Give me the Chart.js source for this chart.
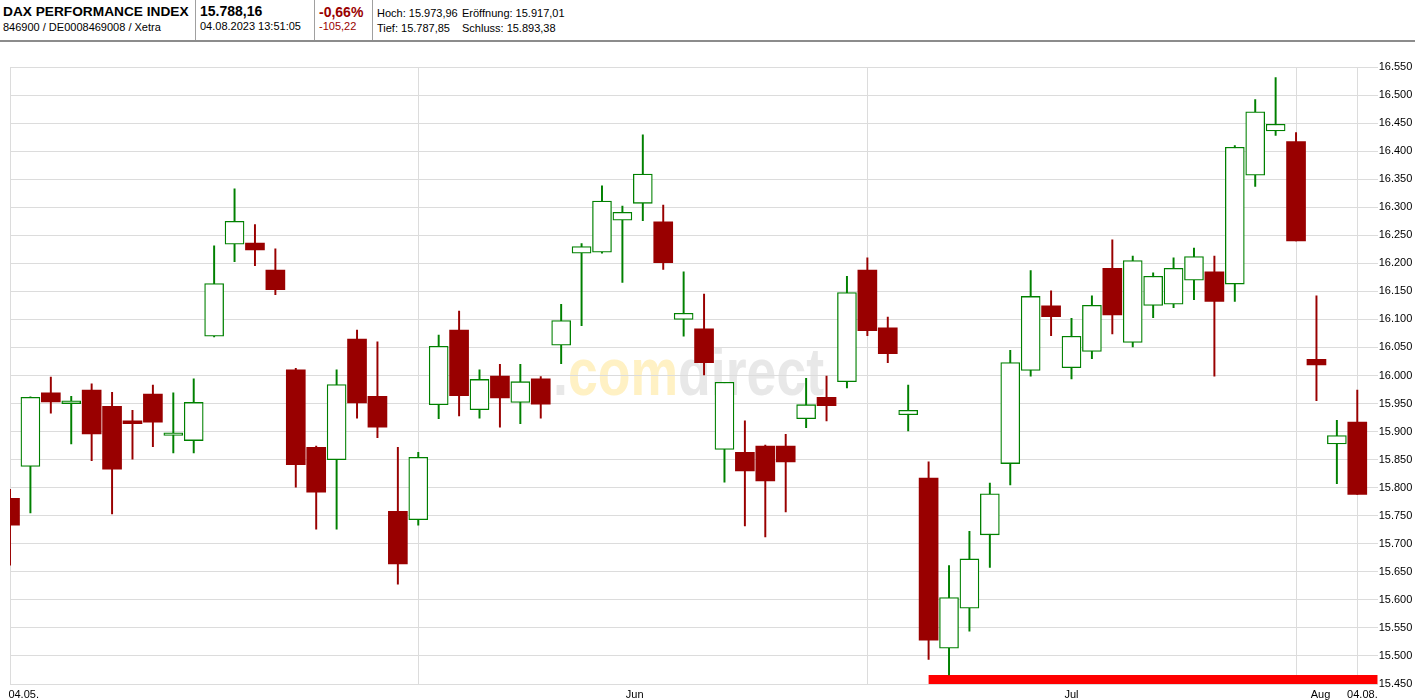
<!DOCTYPE html>
<html>
<head>
<meta charset="utf-8">
<title>DAX Performance Index</title>
<script src="https://cdn.jsdelivr.net/npm/chart.js@4.4.0/dist/chart.umd.min.js"></script>
<style>
  body { margin: 0; width: 1415px; height: 700px; overflow: hidden; position: relative; background: #fff;
         font-family: "Liberation Sans", Arial, sans-serif; color: #000; }
  #head { position: absolute; left: 0; top: 0; width: 1415px; height: 40px; border-bottom: 2px solid #8c8c8c; }
  .sep { position: absolute; top: 0; width: 1px; height: 40px; background: #a0a0a0; }
  .t { position: absolute; white-space: nowrap; line-height: 1; }
  .big { font-size: 14px; font-weight: bold; }
  .small { font-size: 11px; }
  .neg { color: #990000; }
  #wm { position: absolute; left: 553px; top: 338px; font-size: 67px; font-weight: bold; line-height: 1;
        transform: scaleX(0.8); transform-origin: left top; white-space: nowrap; z-index: 0; }
  #wm .g { color: #e8e8e8; }
  #wm .y { color: #fff1c4; }
  #wrap { position: absolute; left: 0; top: 42px; width: 1415px; height: 658px; z-index: 1; }
</style>
</head>
<body>
<div id="head">
  <div class="t big" style="left:3px;top:5px;font-size:13.7px">DAX PERFORMANCE INDEX</div>
  <div class="t small" style="left:3px;top:22px">846900 / DE0008469008 / Xetra</div>
  <div class="sep" style="left:195px"></div>
  <div class="t big" style="left:200px;top:4px">15.788,16</div>
  <div class="t small" style="left:200px;top:21px">04.08.2023 13:51:05</div>
  <div class="sep" style="left:314px"></div>
  <div class="t big neg" style="left:319px;top:5px">-0,66%</div>
  <div class="t small neg" style="left:319px;top:21px">-105,22</div>
  <div class="sep" style="left:372px"></div>
  <div class="t small" style="left:377px;top:8px">Hoch: 15.973,96</div>
  <div class="t small" style="left:462px;top:8px">Eröffnung: 15.917,01</div>
  <div class="t small" style="left:377px;top:23px">Tief: 15.787,85</div>
  <div class="t small" style="left:462px;top:23px">Schluss: 15.893,38</div>
</div>
<div id="wm"><span class="g">.</span><span class="y">com</span><span class="g">direct</span></div>
<div id="wrap"><canvas id="chart" width="1415" height="658"></canvas></div>
<script>
// Handelstage 04.05.2023 - 04.08.2023
const dates = [
  '04.05.', '05.05.', '08.05.', '09.05.', '10.05.', '11.05.', '12.05.', '15.05.', '16.05.', '17.05.',
  '18.05.', '19.05.', '22.05.', '23.05.', '24.05.', '25.05.', '26.05.', '29.05.', '30.05.', '31.05.',
  '01.06.', '02.06.', '05.06.', '06.06.', '07.06.', '08.06.', '09.06.', '12.06.', '13.06.', '14.06.',
  '15.06.', '16.06.', '19.06.', '20.06.', '21.06.', '22.06.', '23.06.', '26.06.', '27.06.', '28.06.',
  '29.06.', '30.06.', '03.07.', '04.07.', '05.07.', '06.07.', '07.07.', '10.07.', '11.07.', '12.07.',
  '13.07.', '14.07.', '17.07.', '18.07.', '19.07.', '20.07.', '21.07.', '24.07.', '25.07.', '26.07.',
  '27.07.', '28.07.', '31.07.', '01.08.', '02.08.', '03.08.', '04.08.'
];
const open = [
  15781, 15838, 15969, 15950, 15974, 15945, 15919, 15967, 15893, 15884,
  16070, 16234, 16236, 16188, 16010, 15872, 15850, 16065, 15963, 15758,
  15743, 15948, 16081, 15939, 15999, 15952, 15994, 16054, 16218, 16220,
  16277, 16307, 16274, 16100, 16083, 15868, 15863, 15874, 15874, 15923,
  15961, 15989, 16188, 16085, 15930, 15817, 15514, 15585, 15716, 15843,
  16009, 16124, 16014, 16043, 16191, 16059, 16125, 16127, 16170, 16185,
  16163, 16357, 16436, 16417, 16029, 15878, 15917
];
const high = [
  15797, 15962, 15997, 15963, 15985, 15970, 15938, 15983, 15969, 15994,
  16231, 16333, 16269, 16226, 16013, 15874, 16010, 16081, 16060, 15872,
  15863, 16072, 16115, 16010, 16020, 16020, 15998, 16127, 16235, 16338,
  16302, 16429, 16304, 16185, 16145, 15988, 15919, 15876, 15895, 15995,
  15999, 16177, 16210, 16104, 15983, 15846, 15661, 15722, 15808, 16045,
  16187, 16151, 16102, 16142, 16242, 16213, 16183, 16210, 16227, 16213,
  16410, 16492, 16531, 16433, 16142, 15920, 15974
];
const low = [
  15662, 15755, 15933, 15878, 15848, 15753, 15851, 15873, 15862, 15862,
  16069, 16203, 16196, 16144, 15801, 15726, 15726, 15924, 15889, 15628,
  15733, 15923, 15928, 15924, 15908, 15914, 15924, 16021, 16089, 16218,
  16166, 16276, 16189, 16070, 16001, 15810, 15732, 15712, 15757, 15907,
  15919, 15978, 16071, 16023, 15901, 15494, 15466, 15544, 15658, 15805,
  15999, 16071, 15994, 16030, 16074, 16051, 16103, 16121, 16135, 15999,
  16132, 16337, 16428, 16240, 15955, 15807, 15788
];
const close = [
  15733, 15961, 15953, 15955, 15896, 15833, 15914, 15917, 15898, 15952,
  16164, 16275, 16224, 16153, 15841, 15792, 15984, 15951, 15908, 15664,
  15854, 16052, 15964, 15993, 15960, 15989, 15949, 16098, 16230, 16311,
  16291, 16359, 16201, 16111, 16023, 15988, 15830, 15812, 15846, 15948,
  15946, 16148, 16080, 16039, 15938, 15528, 15604, 15673, 15789, 16023,
  16141, 16105, 16070, 16125, 16108, 16205, 16177, 16191, 16212, 16132,
  16407, 16470, 16448, 16240, 16019, 15893, 15788
];
const yTicksMin = 15450;
const yTicksMax = 16550;
const xLabels = ['04.05.', 'Jun', 'Jul', 'Aug', '04.08.'];
// roter Balken unten (ab 06.07.)
const markFrom = '06.07.';
const markLevel = [15450, 15466];

const up = close.map((c, i) => c >= open[i]);
const bodies = dates.map((d, i) => ({ x: i, y: [open[i], close[i]] }));
const wicks = dates.map((d, i) => ({ x: i, y: [low[i], high[i]] }));

// Monatsanfang + letzter Tag -> senkrechte Linien
const vLines = [0];
dates.forEach((d, i) => {
  if (i > 0 && d.slice(3) !== dates[i - 1].slice(3)) vLines.push(i);
});
vLines.push(dates.length - 1);

const fmt = v => Math.floor(v / 1000) + '.' + String(v % 1000).padStart(3, '0');

const GREEN = '#008000';
const RED = '#990000';
const GRID = '#dcdcdc';

Chart.defaults.font.family = '"Liberation Sans", Arial, sans-serif';
Chart.defaults.font.size = 11;
Chart.defaults.color = '#000';

const markStart = dates.indexOf(markFrom);
const markY = (markLevel[0] + markLevel[1]) / 2;

new Chart(document.getElementById('chart'), {
  type: 'bar',
  data: {
    datasets: [
      {
        data: bodies,
        backgroundColor: up.map(u => u ? '#ffffff' : RED),
        borderColor: up.map(u => u ? GREEN : RED),
        borderWidth: up.map(u => u ? 1.3 : 0),
        borderSkipped: false,
        barThickness: 19,
        grouped: false,
        order: 0
      },
      {
        data: wicks,
        backgroundColor: up.map(u => u ? GREEN : RED),
        borderWidth: 0,
        barThickness: 1.3,
        grouped: false,
        order: 1
      },
      {
        type: 'line',
        data: [{ x: markStart, y: markY }, { x: dates.length, y: markY }],
        borderColor: '#ff0000',
        borderWidth: 9,
        borderCapStyle: 'butt',
        pointRadius: 0,
        clip: 0,
        order: 2
      }
    ]
  },
  options: {
    responsive: false,
    animation: false,
    devicePixelRatio: 1,
    layout: { padding: { left: 10, top: 25, right: 0, bottom: 0 } },
    plugins: { legend: { display: false }, tooltip: { enabled: false } },
    scales: {
      x: {
        type: 'linear', min: 0, max: dates.length, position: 'bottom', offset: false,
        grid: { color: GRID, drawTicks: false, offset: false },
        border: { display: false },
        ticks: { display: false },
        afterBuildTicks: s => { s.ticks = vLines.map(v => ({ value: v })); },
        afterFit: s => { s.height = 0; }
      },
      xl: {
        type: 'linear', min: 0, max: dates.length, position: 'bottom', offset: false,
        grid: { display: false, drawTicks: false, offset: false },
        border: { display: false },
        ticks: { autoSkip: false, maxRotation: 0, padding: 4, callback: (v, i) => xLabels[i] },
        afterBuildTicks: s => { s.ticks = [0.67, 30.6, 52.0, 64.2, 66.25].map(v => ({ value: v })); },
        afterFit: s => { s.height = 16; }
      },
      y: {
        position: 'right', min: yTicksMin, max: yTicksMax,
        grid: { color: GRID, drawTicks: false },
        border: { display: false },
        ticks: { stepSize: 50, padding: 1, autoSkip: false, callback: v => fmt(v) },
        afterFit: s => { s.width = 37.3; }
      }
    }
  }
});
</script>
</body>
</html>
